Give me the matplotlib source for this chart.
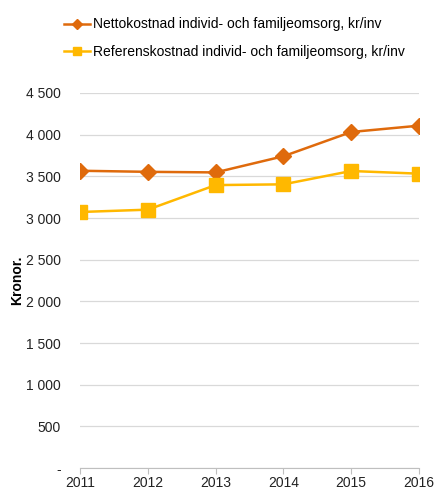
import matplotlib
matplotlib.use("Agg")
import matplotlib.pyplot as plt
from matplotlib.ticker import FuncFormatter

plt.rcParams["font.family"] = ["Liberation Sans", "DejaVu Sans"]

years = [2011, 2012, 2013, 2014, 2015, 2016]
netto = [3567, 3554, 3547, 3741, 4032, 4108]
referens = [3072, 3100, 3395, 3404, 3564, 3532]
series_labels = [
    "Nettokostnad individ- och familjeomsorg, kr/inv",
    "Referenskostnad individ- och familjeomsorg, kr/inv",
]
yticks = [0, 500, 1000, 1500, 2000, 2500, 3000, 3500, 4000, 4500]

orange = "#DF6A0C"
yellow = "#FFB800"


def kr_fmt(v, _pos):
    if v == 0:
        return "-"
    return f"{int(v):,}".replace(",", " ")


fig = plt.figure(figsize=(4.36, 4.91), dpi=100)
ax = fig.add_axes([0.1835, 0.0468, 0.7775, 0.7638])

l1, = ax.plot(years, netto, color=orange, lw=1.8, marker="D", ms=8.5,
              label=series_labels[0], zorder=3)
l2, = ax.plot(years, referens, color=yellow, lw=1.8, marker="s", ms=10,
              label=series_labels[1], zorder=3)

ax.set_xlim(years[0], years[-1])
ax.set_ylim(0, 4500)
ax.set_yticks(yticks)
ax.yaxis.set_major_formatter(FuncFormatter(kr_fmt))
ax.set_xticks(years)
ax.grid(axis="y", color="#D9D9D9", lw=0.9)
ax.set_axisbelow(True)
for s in ["top", "right", "left"]:
    ax.spines[s].set_visible(False)
ax.spines["bottom"].set_color("#BFBFBF")
ax.tick_params(axis="y", length=0, pad=14, labelsize=10, labelcolor="#222222")
ax.tick_params(axis="x", length=4, color="#BFBFBF", labelsize=10,
               labelcolor="#222222", pad=1.5)
ax.set_ylabel("Kronor.", fontweight="bold", fontsize=10)
ax.yaxis.set_label_coords(-0.165, 0.5)

fig.legend(handles=[plt.Line2D([], [], color=orange, lw=1.8, marker="D", ms=5),
                    plt.Line2D([], [], color=yellow, lw=1.8, marker="s", ms=6)],
           labels=series_labels, loc="upper left", bbox_to_anchor=(0.117, 0.99),
           frameon=False, fontsize=10, handlelength=1.9, handletextpad=0.2,
           labelspacing=1.0)

fig.savefig("out.png", dpi=100)
